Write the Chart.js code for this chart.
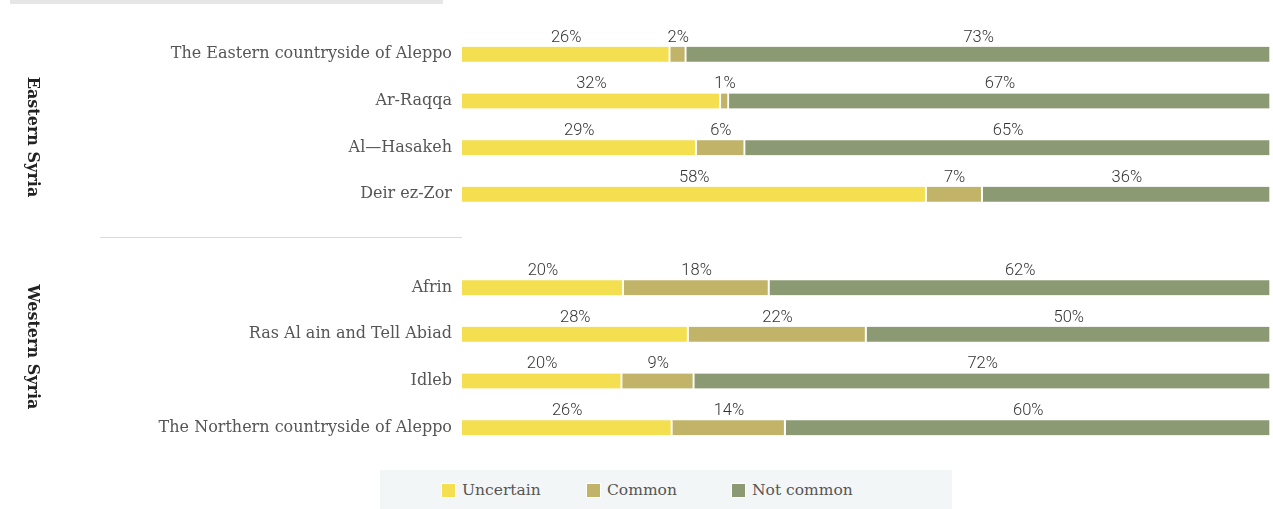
<!DOCTYPE html>
<html>
<head>
<meta charset="utf-8">
<script src="https://cdn.jsdelivr.net/npm/chart.js@4"></script>
<style>
    body { margin: 0; background: #fff; }
    #wrap { position: relative; width: 1273px; height: 509px; overflow: hidden; }
    #tab { position: absolute; left: 10px; top: 0; width: 433px; height: 4px; background: #e6e6e6; }
    #myChart { position: absolute; left: 0; top: 0; }
    #legend {
        position: absolute; left: 380px; top: 470px; width: 572px; height: 39px;
        background: #f3f6f7; font-family: "DejaVu Serif", serif; font-size: 15.5px; color: #555;
    }
    .item { position: absolute; top: 11px; display: flex; align-items: center; }
    .item span.box { width: 13px; height: 13px; border: 1px solid #fff; margin-right: 6px; }
</style>
</head>
<body>
<div id="wrap">
    <div id="tab"></div>
    <canvas id="myChart" width="1273" height="509"></canvas>
    <div id="legend"></div>
</div>
<script>
var regions = [
    'The Eastern countryside of Aleppo',
    'Ar-Raqqa',
    'Al\u2014Hasakeh',
    'Deir ez-Zor',
    '',
    'Afrin',
    'Ras Al ain and Tell Abiad',
    'Idleb',
    'The Northern countryside of Aleppo'
];
var uncertain = [26, 32, 29, 58, null, 20, 28, 20, 26];
var common    = [2, 1, 6, 7, null, 18, 22, 9, 14];
var notCommon = [73, 67, 65, 36, null, 62, 50, 72, 60];

var seriesNames = ['Uncertain', 'Common', 'Not common'];
var colors = ['#f3df4f', '#c1b468', '#8c9a73'];

var raw = [uncertain, common, notCommon];

// each row is stretched to fill the full width (rounded shares can add up to 101)
function share(values) {
    return values.map(function (v, i) {
        if (v === null) return null;
        var total = uncertain[i] + common[i] + notCommon[i];
        return v / total * 100;
    });
}

var datasets = raw.map(function (values, k) {
    return {
        label: seriesNames[k],
        data: share(values),
        backgroundColor: colors[k],
        borderColor: '#ffffff',
        borderWidth: { top: 0, bottom: 0, left: 0, right: 2 },
        borderSkipped: false,
        barThickness: 15
    };
});

// percentages above every segment, group titles and the divider
const extras = {
    id: 'extras',
    afterDatasetsDraw(chart) {
        const ctx = chart.ctx;
        ctx.save();
        ctx.font = '300 16.5px Roboto, sans-serif';
        ctx.fillStyle = '#333';
        ctx.textAlign = 'center';
        ctx.textBaseline = 'bottom';
        chart.data.datasets.forEach(function (ds, k) {
            chart.getDatasetMeta(k).data.forEach(function (bar, i) {
                if (raw[k][i] === null) return;
                var props = bar.getProps(['x', 'y', 'base', 'height'], true);
                var cx = (props.x + props.base) / 2;
                ctx.fillText(raw[k][i] + '%', cx, props.y - props.height / 2 - 1);
            });
        });

        var y = chart.scales.y;
        var lineY = Math.round((y.getPixelForValue(3) + y.getPixelForValue(5)) / 2) - 3.5;
        ctx.strokeStyle = '#d9d9d9';
        ctx.lineWidth = 1;
        ctx.beginPath();
        ctx.moveTo(100, lineY);
        ctx.lineTo(chart.chartArea.left, lineY);
        ctx.stroke();

        ctx.font = 'bold 16px "DejaVu Serif", serif';
        ctx.fillStyle = '#222';
        ctx.textAlign = 'center';
        ctx.textBaseline = 'middle';
        [['Eastern Syria', 137], ['Western Syria', 347]].forEach(function (g) {
            ctx.save();
            ctx.translate(32, g[1]);
            ctx.rotate(Math.PI / 2);
            ctx.fillText(g[0], 0, 0);
            ctx.restore();
        });
        ctx.restore();
    }
};

const config = {
    type: 'bar',
    data: { labels: regions, datasets: datasets },
    options: {
        indexAxis: 'y',
        responsive: false,
        animation: false,
        layout: { padding: { top: 31, bottom: 58, left: 0, right: 2 } },
        plugins: { legend: { display: false }, tooltip: { enabled: false } },
        scales: {
            x: { stacked: true, min: 0, max: 100, display: false },
            y: {
                stacked: true,
                grid: { display: false, drawTicks: false },
                border: { display: false },
                afterFit: function (scale) { scale.width = 462; },
                ticks: {
                    padding: 10,
                    color: '#555',
                    font: { family: '"DejaVu Serif", serif', size: 16 }
                }
            }
        }
    },
    plugins: [extras]
};

const myChart = new Chart(document.getElementById('myChart'), config);

// legend strip under the chart
var legend = document.getElementById('legend');
seriesNames.forEach(function (name, k) {
    var item = document.createElement('div');
    item.className = 'item';
    item.style.left = (61 + k * 145) + 'px';
    item.innerHTML = '<span class="box" style="background:' + colors[k] + '"></span>' + name;
    legend.appendChild(item);
});
</script>
</body>
</html>
